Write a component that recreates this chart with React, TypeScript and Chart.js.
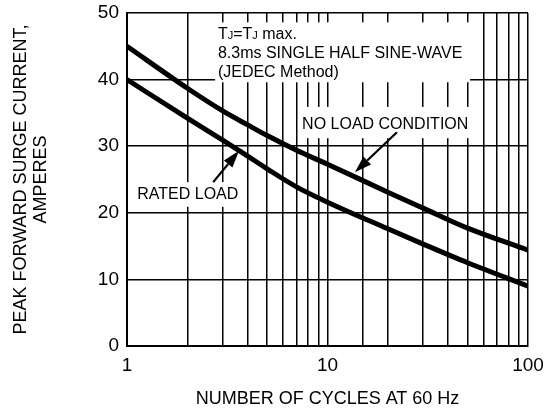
import React, { useEffect, useRef } from "react";
import { Chart, registerables } from "chart.js";

Chart.register(...registerables);

const cycles = [1, 2, 3, 4, 5, 7, 10, 20, 30, 50, 100];
const noLoad = [45, 38.7, 35.3, 33.2, 31.6, 29.4, 27.3, 23.1, 20.7, 17.7, 14.4];
const ratedLoad = [40, 34.2, 30.9, 28.5, 26.6, 23.9, 21.6, 17.6, 15.3, 12.5, 9];
const xTickLabels = [1, 10, 100];
const yTitle = ["PEAK FORWARD SURGE CURRENT,", "AMPERES"];
const xTitle = "NUMBER OF CYCLES AT 60 Hz";

const FONT = "'Liberation Sans', Arial, Helvetica, sans-serif";

function arrow(ctx: CanvasRenderingContext2D, x1: number, y1: number, x2: number, y2: number) {
  const ang = Math.atan2(y2 - y1, x2 - x1);
  const len = 17;
  const half = 5.5;
  const bx = x2 - len * Math.cos(ang);
  const by = y2 - len * Math.sin(ang);
  ctx.save();
  ctx.strokeStyle = "#000";
  ctx.fillStyle = "#000";
  ctx.lineWidth = 2.2;
  ctx.beginPath();
  ctx.moveTo(x1, y1);
  ctx.lineTo(bx, by);
  ctx.stroke();
  ctx.beginPath();
  ctx.moveTo(x2, y2);
  ctx.lineTo(bx + half * Math.sin(ang), by - half * Math.cos(ang));
  ctx.lineTo(bx - half * Math.sin(ang), by + half * Math.cos(ang));
  ctx.closePath();
  ctx.fill();
  ctx.restore();
}

const annotations = {
  id: "annotations",
  beforeDatasetsDraw(chart: any) {
    const { ctx, scales } = chart;
    const X = (v: number) => scales.x.getPixelForValue(v);
    const Y = (v: number) => scales.y.getPixelForValue(v);
    ctx.save();
    ctx.fillStyle = "#fff";
    const box = (x1: number, x2: number, y1: number, y2: number) => {
      ctx.fillRect(X(x1), Y(y1), X(x2) - X(x1), Y(y2) - Y(y1));
    };
    box(2.75, 51.4, 48.6, 39.6);
    box(7.46, 51.4, 35.9, 31.2);
    box(1.096, 3.75, 24.6, 20.9);
    ctx.restore();
  },
  afterDatasetsDraw(chart: any) {
    const { ctx, scales } = chart;
    const X = (v: number) => scales.x.getPixelForValue(v);
    const Y = (v: number) => scales.y.getPixelForValue(v);
    ctx.save();
    ctx.fillStyle = "#000";
    ctx.textBaseline = "middle";
    ctx.textAlign = "left";
    const big = `16px ${FONT}`;
    const small = `11px ${FONT}`;
    let x = X(2.84);
    const y1 = Y(46.8);
    const parts: [string, boolean][] = [["T", false], ["J", true], ["=T", false], ["J", true], [" max.", false]];
    for (const [t, sub] of parts) {
      ctx.font = sub ? small : big;
      ctx.fillText(t, x, sub ? y1 + 2 : y1);
      x += ctx.measureText(t).width;
    }
    ctx.font = big;
    ctx.fillText("8.3ms SINGLE HALF SINE-WAVE", X(2.84), Y(43.9));
    ctx.fillText("(JEDEC Method)", X(2.84), Y(41.0));
    ctx.textAlign = "center";
    ctx.fillText("NO LOAD CONDITION", X(19.4), Y(33.3));
    ctx.fillText("RATED LOAD", X(2.01), Y(22.8));
    arrow(ctx, X(22.2), Y(32.1), X(13.7), Y(26.1));
    arrow(ctx, X(2.69), Y(24.6), X(3.62), Y(29.3));
    ctx.restore();
  },
};

export default function App() {
  const ref = useRef<HTMLCanvasElement>(null);
  useEffect(() => {
    document.body.style.margin = "0";
    const line = (label: string, values: number[]) => ({
      label,
      data: cycles.map((c, i) => ({ x: c, y: values[i] })),
      borderColor: "#000",
      borderWidth: 5,
      pointRadius: 0,
      cubicInterpolationMode: "monotone",
      fill: false,
    });
    const chart = new Chart(ref.current!, {
      type: "line",
      data: {
        datasets: [line("No load", noLoad), line("Rated load", ratedLoad)],
      },
      options: {
        animation: false,
        responsive: false,
        devicePixelRatio: 1,
        layout: { padding: { left: 0, top: 13, right: 24, bottom: 0 } },
        plugins: { legend: { display: false }, tooltip: { enabled: false } },
        scales: {
          x: {
            type: "logarithmic",
            min: 1,
            max: 100,
            afterFit: (s: any) => {
              s.height = 67;
              s.paddingLeft = 0;
              s.paddingRight = 0;
            },
            grid: { color: "#000", lineWidth: 1.5, drawTicks: false },
            border: { color: "#000", width: 2 },
            ticks: {
              autoSkip: false,
              maxRotation: 0,
              padding: 8,
              color: "#000",
              font: { family: FONT, size: 19 },
              callback: (v: any) => (xTickLabels.includes(Number(v)) ? String(v) : ""),
            },
            title: {
              display: true,
              text: xTitle,
              color: "#000",
              font: { family: FONT, size: 18 },
              padding: { top: 0, bottom: 3 },
            },
          },
          y: {
            min: 0,
            max: 50,
            afterFit: (s: any) => {
              s.width = 127;
              s.paddingTop = 0;
              s.paddingBottom = 0;
            },
            grid: { color: "#000", lineWidth: 1.5, drawTicks: false },
            border: { color: "#000", width: 2 },
            ticks: {
              stepSize: 10,
              padding: 8,
              color: "#000",
              font: { family: FONT, size: 19 },
            },
            title: {
              display: true,
              text: yTitle,
              color: "#000",
              font: { family: FONT, size: 18, lineHeight: 1.1 },
              padding: { top: 11, bottom: 0 },
            },
          },
        },
      },
      plugins: [annotations],
    } as any);
    return () => chart.destroy();
  }, []);
  return (
    <div style={{ position: "fixed", left: 0, top: 0, width: 552, height: 413, background: "#fff" }}>
      <canvas ref={ref} width={552} height={413} />
    </div>
  );
}
